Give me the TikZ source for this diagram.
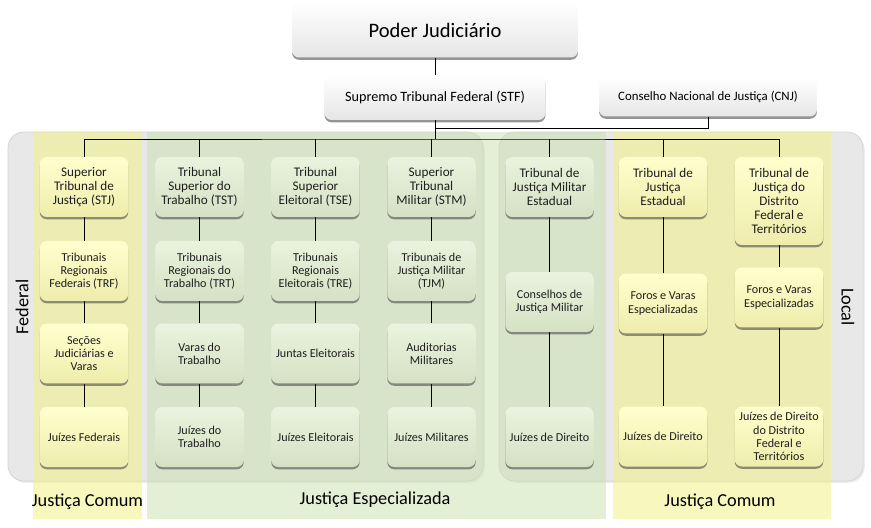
\documentclass[tikz,border=0pt]{standalone}
\usepackage{fontspec}
\setmainfont{Carlito}
\usetikzlibrary{shadows}
\definecolor{txt}{RGB}{30,30,30}
\definecolor{ytop}{RGB}{255,255,206}
\definecolor{ybot}{RGB}{238,237,172}
\definecolor{gtop}{RGB}{233,243,222}
\definecolor{gbot}{RGB}{213,225,196}
\definecolor{yband}{RGB}{242,240,125}
\definecolor{gband}{RGB}{201,225,171}
\definecolor{panelgray}{RGB}{232,232,232}
\begin{document}
\begin{tikzpicture}[
  x=0.02cm, y=-0.02cm,
  shade/.style={drop shadow={shadow xshift=0pt, shadow yshift=-1.3pt, opacity=0.6, fill=black!70}},
  head/.style={shade, rounded corners=4pt, top color=white, bottom color=gray!20, text=black, align=center},
  box/.style={shade, rounded corners=4pt, align=center, text=txt, minimum width=1.77cm, minimum height=1.2cm, inner sep=1pt, font=\fontsize{6.9}{7.5}\selectfont},
  hi/.style={font=\fontsize{7.5}{8}\selectfont},
  yb/.style={box, top color=ytop, bottom color=ybot},
  gb/.style={box, top color=gtop, bottom color=gbot},
  panel/.style={fill=panelgray, draw=gray!35, rounded corners=9pt, drop shadow={shadow xshift=1pt, shadow yshift=-1pt, opacity=0.15}},
  band/.style={opacity=0.5},
  lab/.style={text=black, font=\fontsize{10.4}{12}\selectfont},
  link/.style={draw=black, line width=0.5pt}
]
\useasboundingbox (0,0) rectangle (871,527);

\path[panel] (8,132) rectangle (483,481);
\path[panel] (499,132) rectangle (863,481);
\fill[yband, band] (33,132) rectangle (142,519);
\fill[gband, band] (147,132) rectangle (606,519);
\fill[yband, band] (613,132) rectangle (831,519);

\node[head, minimum width=5.72cm, minimum height=1.1cm, font=\fontsize{11.7}{13}\selectfont] (pj) at (435,30) {Poder Judiciário};
\node[head, minimum width=4.42cm, minimum height=0.9cm, font=\fontsize{8.1}{9}\selectfont] (stf) at (435,97.5) {Supremo Tribunal Federal (STF)};
\node[head, minimum width=4.36cm, minimum height=0.78cm, font=\fontsize{7.3}{8}\selectfont] (cnj) at (708,97) {Conselho Nacional de Justiça (CNJ)};

\node[yb, hi] (stj) at (84,187) {Superior\\Tribunal de\\Justiça (STJ)};
\node[yb] (trf) at (84,271) {Tribunais\\Regionais\\Federais (TRF)};
\node[yb] (sjv) at (84,353.5) {Seções\\Judiciárias e\\Varas};
\node[yb] (jf) at (84,437) {Juízes Federais};

\node[gb, hi] (tst) at (199.5,187) {Tribunal\\Superior do\\Trabalho (TST)};
\node[gb] (trt) at (199.5,271) {Tribunais\\Regionais do\\Trabalho (TRT)};
\node[gb] (vt) at (199.5,353.5) {Varas do\\Trabalho};
\node[gb] (jt) at (199.5,437) {Juízes do\\Trabalho};

\node[gb, hi] (tse) at (315.5,187) {Tribunal\\Superior\\Eleitoral (TSE)};
\node[gb] (tre) at (315.5,271) {Tribunais\\Regionais\\Eleitorais (TRE)};
\node[gb] (jel) at (315.5,353.5) {Juntas Eleitorais};
\node[gb] (jze) at (315.5,437) {Juízes Eleitorais};

\node[gb, hi] (stm) at (431.5,187) {Superior\\Tribunal\\Militar (STM)};
\node[gb] (tjm) at (431.5,271) {Tribunais de\\Justiça Militar\\(TJM)};
\node[gb] (aud) at (431.5,353.5) {Auditorias\\Militares};
\node[gb] (jzm) at (431.5,437) {Juízes Militares};

\node[gb, hi] (tjme) at (549.5,187) {Tribunal de\\Justiça Militar\\Estadual};
\node[gb] (cjm) at (549.5,302) {Conselhos de\\Justiça Militar};
\node[gb] (jdm) at (549.5,437) {Juízes de Direito};

\node[yb, hi] (tje) at (663,187) {Tribunal de\\Justiça\\Estadual};
\node[yb] (fve) at (663,303.5) {Foros e Varas\\Especializadas};
\node[yb] (jde) at (663,436.5) {Juízes de Direito};

\node[yb, hi, minimum height=1.76cm] (tjdft) at (779,201) {Tribunal de\\Justiça do\\Distrito\\Federal e\\Territórios};
\node[yb] (fvd) at (779,297.5) {Foros e Varas\\Especializadas};
\node[yb] (jdd) at (779,436.5) {Juízes de Direito\\do Distrito\\Federal e\\Territórios};

\coordinate (cn) at (435,128);
\coordinate (bus) at (435,139);
\draw[link] (pj) -- (stf);
\draw[link] (stf) -- (bus);
\draw[link] (cn) -| (cnj);
\draw[link] (stj.north) |- (bus) -| (tjdft.north);
\foreach \n in {tst,tse,stm,tjme,tje}
  \draw[link] (\n.north) -- (\n.north |- bus);
\draw[link] (stj) -- (trf) -- (sjv) -- (jf);
\draw[link] (tst) -- (trt) -- (vt) -- (jt);
\draw[link] (tse) -- (tre) -- (jel) -- (jze);
\draw[link] (stm) -- (tjm) -- (aud) -- (jzm);
\draw[link] (tjme) -- (cjm) -- (jdm);
\draw[link] (tje) -- (fve) -- (jde);
\draw[link] (tjdft) -- (fvd) -- (jdd);

\node[lab] (jc1) at (87.5,502) {Justiça Comum};
\node[lab] (jesp) at (375,500) {Justiça Especializada};
\node[lab] (jc2) at (720,502) {Justiça Comum};
\node[lab, rotate=90] (fed) at (22,307) {Federal};
\node[lab, rotate=-90] (loc) at (848,307) {Local};
\end{tikzpicture}
\end{document}
